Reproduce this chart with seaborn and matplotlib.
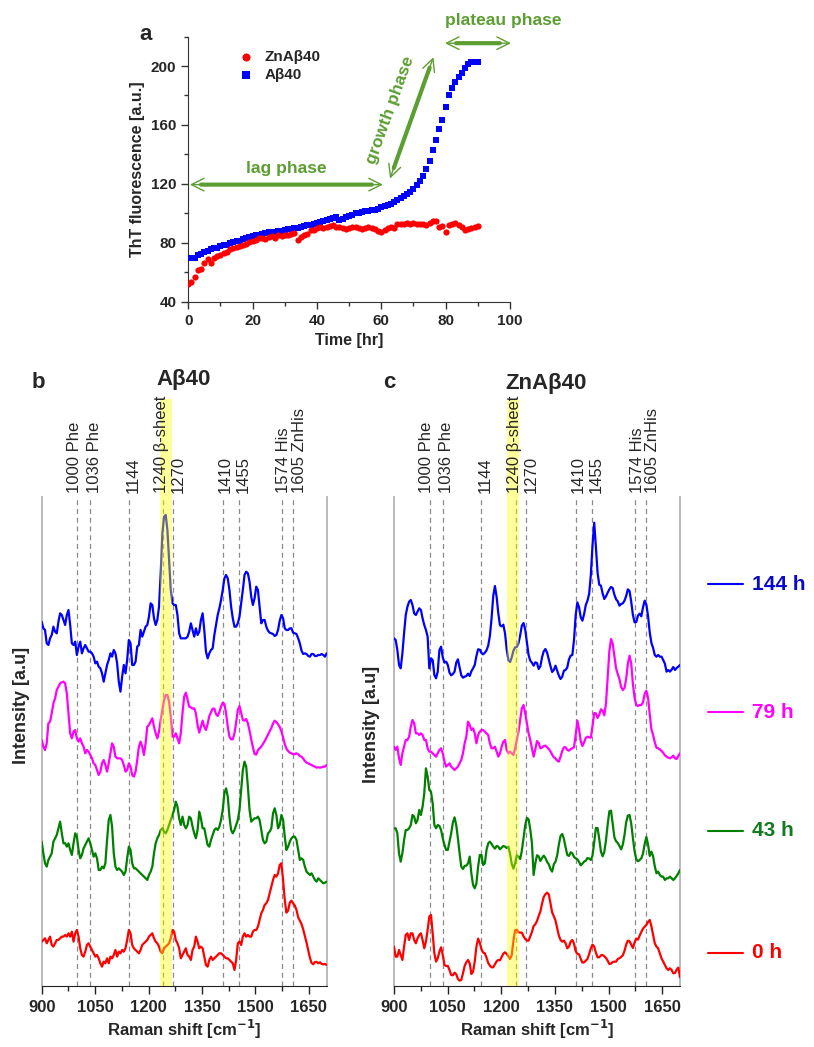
import numpy as np
import pandas as pd
import matplotlib
matplotlib.use('Agg')
import matplotlib.pyplot as plt
import matplotlib.transforms as mtransforms
from matplotlib.lines import Line2D
from matplotlib.ticker import MultipleLocator
import seaborn as sns

sns.set_style('white')
plt.rcParams['font.family'] = ['Liberation Sans', 'DejaVu Sans']

# ---- panel a: ThT kinetics (hourly readings) ----
time_hr = np.arange(0, 91)
abeta40 = [69.4, 69.4, 69.4, 71.6, 72.5, 73.8, 74.5, 75.5, 76.3, 76.8,
           77.8, 78.5, 78.5, 79.8, 80.5, 81.0, 81.4, 82.5, 83.2, 83.8,
           84.5, 85.0, 85.5, 86.2, 86.5, 87.0, 87.2, 87.6, 88.0, 88.3,
           88.6, 89.2, 89.5, 90.0, 90.2, 90.8, 91.2, 91.8, 92.4, 93.0,
           93.6, 94.3, 95.0, 95.7, 96.4, 97.0, 97.6, 95.5, 96.5, 97.8,
           98.5, 99.2, 100.0, 100.5, 101.2, 101.6, 101.8, 102.0, 102.6, 103.2,
           104.0, 104.8, 105.5, 106.5, 107.5, 108.8, 110.3, 111.8, 113.3, 114.8,
           116.5, 119.0, 122.0, 125.5, 130.0, 135.5, 143.0, 150.0, 157.5, 163.5,
           172.0, 180.0, 185.0, 189.0, 192.5, 195.5, 198.5, 201.5, 202.8, 203.0,
           202.5]
zn_abeta40 = [52, 53.5, 57, 61.5, 62.5, 66, 69, 66.5, 70, 71,
              72, 73, 74, 76, 76.5, 77, 78, 78.5, 79.5, 80.5,
              81.5, 82, 83.5, 83, 82.5, 84, 84.5, 83.5, 85, 84.5,
              85.5, 85, 86, 86.5, 82, 84, 85.5, 86, 88.5, 89,
              90, 90.5, 90, 91, 91.5, 92, 90.5, 91, 90, 89.5,
              90, 91, 90.5, 90, 89.5, 90, 90.5, 90, 89.5, 88,
              87.5, 89, 90, 91, 90, 92.5, 93, 92.5, 93.5, 93,
              93.5, 92.5, 93, 92.5, 92, 93.5, 94.5, 95, 91, 91.5,
              87.5, 92, 93, 93.5, 92, 91, 88.5, 89.5, 90, 91,
              91.5]

# ---- panels b, c: Raman spectra (900-1700 cm-1, baseline-subtracted a.u.) ----
b_144h = [235, 215, 210, 170, 165, 185, 195, 220, 205, 200,
          235, 260, 255, 240, 225, 255, 270, 225, 170, 165,
          175, 135, 160, 175, 140, 155, 165, 155, 145, 145,
          140, 130, 110, 115, 100, 95, 80, 55, 80, 105,
          120, 140, 130, 150, 140, 110, 55, 25, 70, 105,
          80, 120, 180, 170, 105, 105, 115, 160, 165, 210,
          190, 205, 220, 225, 250, 290, 285, 245, 225, 240,
          280, 380, 500, 550, 555, 510, 420, 330, 290, 285,
          285, 255, 200,
          185, 185, 185, 185, 190, 205, 230, 210, 190, 215,
          195, 205, 240, 260, 210, 145, 125, 140, 150, 155,
          195, 225, 255, 275, 300, 330, 365, 375, 365, 330,
          280, 245, 220, 220, 230, 250, 290, 330, 375, 385,
          380, 355, 310, 285, 305, 340, 330, 280, 230, 240,
          240, 220, 208, 202, 200, 198, 192, 195, 210, 238,
          255, 245, 215, 210, 210, 215, 215, 202, 200, 198,
          185, 170, 148, 138, 140, 138, 132, 130, 138, 138,
          132, 132, 135, 135, 138, 135, 130, 140]
b_79h = [130, 110, 100, 120, 180, 185, 210, 240, 255, 280,
         290, 300, 303, 305, 300, 270, 210, 150, 135, 155,
         160, 135, 125, 135, 120, 110, 90, 100, 95, 85,
         75, 60, 55, 40, 25, 35, 60, 70, 55, 35,
         60, 90, 120, 110, 80, 75, 75, 75, 70, 55,
         35, 40, 60, 50, 25, 20, 35, 70, 110, 125,
         110, 85, 120, 170, 175, 185, 195, 170, 150, 135,
         155, 190, 220, 250, 265, 265, 245, 200, 140, 140,
         150, 135, 120,
         150, 210, 260, 272, 252, 230, 228, 224, 225, 210,
         175, 152, 170, 188, 170, 160, 178, 202, 213, 224,
         224, 208, 202, 214, 230, 242, 238, 210, 170, 140,
         132, 132, 150, 182, 220, 232, 212, 190, 188, 193,
         180, 158, 132, 108, 88, 86, 100, 105, 110, 118,
         126, 136, 146, 156, 166, 179, 188, 184, 177, 169,
         156, 138, 118, 104, 97, 92, 90, 87, 88, 90,
         87, 82, 80, 74, 67, 62, 60, 57, 55, 52,
         50, 47, 48, 47, 48, 50, 50, 55]
b_43h = [175, 140, 110, 100, 120, 130, 140, 175, 185, 195,
         215, 235, 200, 170, 170, 160, 170, 150, 135, 170,
         200, 190, 150, 125, 135, 155, 165, 175, 185, 170,
         150, 130, 140, 125, 90, 90, 100, 95, 110, 180,
         240, 255, 220, 140, 100, 90, 95, 90, 85, 75,
         85, 125, 160, 150, 110, 95, 95, 90, 85, 80,
         75, 70, 65, 60, 75, 85, 100, 140, 170, 185,
         195, 210, 215, 205, 200, 210, 225, 240, 255, 270,
         295, 280, 245,
         225, 250, 225, 215, 225, 250, 245, 220, 200, 185,
         210, 265, 245, 215, 215, 190, 165, 160, 180, 195,
         210, 215, 210, 220, 240, 270, 320, 335, 310, 250,
         210, 200, 210, 225, 240, 270, 330, 390, 415, 400,
         340, 270, 235, 240, 245, 245, 250, 240, 210, 180,
         170, 175, 200, 205, 215, 260, 275, 255, 215, 225,
         255, 240, 190, 150, 160, 175, 185, 190, 190, 180,
         150, 120, 125, 120, 100, 85, 80, 75, 80, 70,
         60, 55, 65, 60, 55, 50, 52, 55]
b_0h = [95, 100, 105, 90, 100, 110, 85, 80, 90, 100,
        100, 105, 110, 110, 115, 110, 120, 110, 125, 95,
        120, 130, 110, 75, 55, 50, 65, 85, 90, 80,
        70, 60, 50, 55, 45, 30, 20, 35, 30, 45,
        30, 50, 45, 55, 70, 50, 65, 60, 70, 65,
        75, 100, 130, 120, 85, 75, 70, 65, 60, 70,
        85, 90, 95, 100, 110, 115, 120, 105, 95, 90,
        80, 65, 60, 75, 80, 85, 90, 105, 130, 125,
        100, 90, 75,
        45, 55, 65, 75, 55, 50, 40, 70, 80, 110,
        95, 75, 80, 75, 50, 25, 20, 40, 50, 40,
        45, 50, 55, 60, 60, 55, 50, 45, 45, 40,
        35, 30, 10, 40, 90, 95, 85, 110, 120, 110,
        115, 110, 110, 125, 130, 130, 140, 160, 180, 190,
        205, 210, 220, 240, 260, 280, 295, 290, 300, 325,
        330, 280, 220, 182, 188, 212, 218, 210, 203, 190,
        168, 158, 148, 132, 112, 92, 70, 47, 31, 27,
        34, 34, 30, 33, 28, 27, 28, 25]

c_144h = [185, 180, 150, 105, 95, 140, 200, 255, 280, 295,
          300, 285, 260, 255, 265, 275, 270, 245, 225, 210,
          190, 95, 125, 120, 75, 65, 85, 150, 160, 128,
          112, 115, 105, 82, 74, 78, 85, 112, 122, 98,
          74, 67, 70, 72, 79, 72, 86, 95, 105, 132,
          152, 151, 141, 137, 142, 149, 163, 192, 245, 312,
          342, 310, 260, 224, 221, 226, 200, 152, 119, 114,
          128, 148, 158, 159, 170, 194, 223, 231, 211, 172,
          135, 118, 112,
          103, 113, 111, 93, 101, 128, 146, 153, 142, 122,
          102, 84, 90, 103, 88, 73, 63, 70, 88, 90,
          98, 122, 133, 135, 180, 255, 293, 278, 248, 238,
          258, 285, 298, 319, 375, 465, 532, 460, 382, 346,
          343, 320, 303, 311, 322, 332, 339, 336, 316, 302,
          296, 283, 288, 290, 298, 312, 332, 327, 295, 255,
          233, 234, 253, 259, 251, 278, 298, 286, 252, 203,
          171, 156, 135, 130, 135, 130, 130, 120, 109, 85,
          90, 85, 91, 99, 90, 96, 100, 105]
c_79h = [110, 100, 110, 75, 55, 90, 110, 130, 130, 140,
         170, 190, 180, 150, 150, 145, 150, 145, 130, 130,
         105, 95, 95, 90, 85, 80, 90, 100, 105, 90,
         65, 50, 55, 60, 50, 45, 40, 45, 50, 60,
         70, 90, 120, 140, 185, 175, 160, 165, 150, 120,
         145, 155, 160, 160, 155, 150, 145, 120, 105, 105,
         110, 95, 80, 90, 110, 125, 130, 100, 90, 95,
         90, 85, 105, 130, 155, 190, 225, 235, 210, 180,
         150, 130, 105,
         80, 102, 127, 121, 105, 107, 112, 113, 108, 103,
         96, 86, 78, 75, 68, 65, 80, 97, 108, 108,
         100, 98, 103, 105, 108, 145, 188, 162, 126, 112,
         123, 136, 140, 138, 137, 172, 211, 210, 196, 206,
         222, 218, 204, 239, 319, 396, 433, 419, 382, 345,
         328, 313, 289, 280, 286, 313, 359, 383, 360, 298,
         257, 235, 232, 235, 235, 243, 268, 278, 257, 207,
         162, 145, 123, 107, 105, 102, 97, 92, 84, 80,
         77, 75, 78, 83, 75, 73, 82, 90]
c_43h = [215, 215, 200, 140, 115, 140, 180, 210, 210, 215,
         225, 255, 250, 230, 240, 270, 255, 280, 320, 395,
         370, 330, 325, 290, 225, 215, 225, 222, 210, 185,
         165, 150, 150, 175, 200, 232, 248, 225, 185, 140,
         100, 93, 102, 103, 110, 130, 80, 45, 35, 50,
         100, 135, 135, 105, 110, 150, 170, 175, 168, 160,
         154, 162, 160, 152, 157, 162, 160, 156, 160, 138,
         108, 94, 110, 134, 130, 123, 148, 185, 224, 246,
         242, 212, 170,
         75, 110, 134, 131, 117, 126, 133, 126, 114, 107,
         93, 85, 107, 115, 134, 167, 192, 198, 183, 158,
         135, 132, 143, 140, 129, 125, 122, 114, 104, 109,
         115, 118, 126, 124, 120, 133, 173, 216, 216, 183,
         145, 131, 144, 179, 226, 266, 268, 227, 188, 176,
         171, 162, 152, 166, 195, 233, 253, 255, 229, 186,
         146, 122, 116, 120, 125, 139, 168, 189, 166, 132,
         145, 131, 101, 80, 85, 75, 70, 70, 60, 65,
         65, 70, 65, 60, 65, 72, 80, 90]
c_0h = [110, 80, 80, 100, 85, 70, 110, 145, 150, 130,
        150, 150, 130, 120, 135, 145, 150, 130, 105, 125,
        160, 200, 205, 150, 90, 65, 75, 95, 108, 85,
        55, 52, 52, 40, 25, 24, 32, 27, 13, 8,
        10, 30, 52, 63, 70, 60, 28, 35, 65, 110,
        134, 122, 102, 92, 90, 77, 61, 53, 48, 48,
        57, 66, 70, 69, 79, 89, 93, 88, 81, 73,
        85, 128, 159, 161, 153, 152, 152, 141, 133, 128,
        128, 141, 154,
        172, 177, 187, 202, 215, 239, 259, 267, 272, 267,
        240, 213, 201, 188, 166, 143, 130, 125, 128, 120,
        105, 110, 125, 130, 119, 96, 88, 87, 73, 62,
        63, 68, 73, 88, 105, 116, 110, 92, 78, 78,
        84, 85, 81, 76, 68, 58, 59, 64, 65, 65,
        73, 75, 79, 84, 97, 116, 128, 126, 116, 106,
        122, 134, 131, 143, 154, 164, 170, 175, 184, 190,
        171, 146, 120, 110, 105, 90, 75, 65, 55, 45,
        40, 45, 40, 30, 31, 41, 47, 18]

time_labels = ['144 h', '79 h', '43 h', '0 h']
peak_pos = [1000, 1036, 1144, 1240, 1270, 1410, 1455, 1574, 1605]
peak_names = ['1000 Phe', '1036 Phe', '1144', '1240 \u03b2-sheet', '1270',
              '1410', '1455', '1574 His', '1605 ZnHis']

line_colors = {'144 h': '#0000ff', '79 h': '#ff00ff', '43 h': '#008000', '0 h': '#ff0000'}
text_colors = {'144 h': '#0a0ac8', '79 h': '#ff00ff', '43 h': '#137a1f', '0 h': '#ff0000'}
green = '#5c9e31'

fig = plt.figure(figsize=(8.14, 10.47), dpi=100)

# ---------------- panel a ----------------
ax = fig.add_axes([0.2313, 0.7118, 0.3952, 0.2533])
sns.scatterplot(x=time_hr, y=abeta40, ax=ax, color='#0000ff', marker='s', s=18,
                linewidth=0, label='A\u03b240', zorder=3)
sns.scatterplot(x=time_hr, y=zn_abeta40, ax=ax, color='#ff0000', marker='o', s=20,
                linewidth=0, label='ZnA\u03b240', zorder=3)
ax.set_xlim(0, 100)
ax.set_ylim(40, 220)
ax.xaxis.set_major_locator(MultipleLocator(20))
ax.xaxis.set_minor_locator(MultipleLocator(10))
ax.yaxis.set_major_locator(MultipleLocator(40))
ax.yaxis.set_minor_locator(MultipleLocator(20))
ax.tick_params(which='both', direction='out', bottom=True, left=True, width=1, color='#333333')
ax.tick_params(which='major', length=5, labelsize=11)
ax.tick_params(which='minor', length=3)
for lab in ax.get_xticklabels() + ax.get_yticklabels():
    lab.set_fontweight('bold')
sns.despine(ax=ax)
for sp in ['left', 'bottom']:
    ax.spines[sp].set_color('#333333')
ax.set_xlabel('Time [hr]', fontsize=11.5, fontweight='bold', labelpad=4)
ax.set_ylabel('ThT fluorescence [a.u.]', fontsize=11.5, fontweight='bold', labelpad=4)
h, l = ax.get_legend_handles_labels()
ax.legend(h[::-1], l[::-1], loc='upper left', bbox_to_anchor=(0.09, 1.0), frameon=False,
          handletextpad=0.2, labelspacing=0.25, markerscale=1.3,
          prop={'weight': 'bold', 'size': 11})


def phase_arrow(p0, p1):
    ax.annotate('', xy=p1, xytext=p0, annotation_clip=False,
                arrowprops=dict(arrowstyle='<->,head_length=0.9,head_width=0.45',
                                color=green, lw=1.0, shrinkA=0, shrinkB=0))
    ax.annotate('', xy=p1, xytext=p0, annotation_clip=False,
                arrowprops=dict(arrowstyle='-', color=green, lw=3, shrinkA=8, shrinkB=8))


phase_arrow((0.5, 119.5), (60.5, 119.5))
phase_arrow((62.7, 123.6), (76.2, 206))
phase_arrow((79.8, 215.5), (100.3, 215.5))
ax.text(30.6, 130.4, 'lag phase', color=green, fontsize=12.5, fontweight='bold',
        ha='center', va='center')
ax.text(62.7, 170, 'growth phase', color=green, fontsize=12.5, fontweight='bold',
        ha='center', va='center', rotation=70)
ax.text(97.8, 231, 'plateau phase', color=green, fontsize=12.5, fontweight='bold',
        ha='center', va='center', clip_on=False)
fig.text(146 / 814, 1 - 35 / 1047, 'a', fontsize=16, fontweight='bold', ha='center', va='center')


# ---------------- panels b, c ----------------
def spectrum_panel(ax, spectra, offsets, band):
    frames = []
    for lab, vals, off in zip(time_labels, spectra, offsets):
        frames.append(pd.DataFrame({'shift': np.linspace(900, 1700, len(vals)),
                                    'intensity': np.asarray(vals, dtype=float) + off,
                                    'time': lab}))
    df = pd.concat(frames, ignore_index=True)
    sns.lineplot(data=df, x='shift', y='intensity', hue='time', palette=line_colors,
                 legend=False, estimator=None, sort=False, ax=ax, lw=1.6, zorder=3)
    for p in peak_pos:
        ax.axvline(p, color='#8a8a8a', lw=0.9, ls=(0, (4, 3)), zorder=1)
    span = ax.axvspan(band[0], band[1], ymin=0, ymax=1.2, color='#ffff00', alpha=0.4,
                      lw=0, zorder=5)
    span.set_clip_on(False)
    blend = mtransforms.blended_transform_factory(ax.transData, ax.transAxes)
    nudges = [-2, 3, 3, -1, 3.5, 1.5, 3, 1.5, 4.5]
    for p, name, dx in zip(peak_pos, peak_names, nudges):
        ax.annotate(name, xy=(p, 1.0), xycoords=blend, xytext=(dx, 3),
                    textcoords='offset points', rotation=90, ha='center', va='bottom',
                    fontsize=12, zorder=6, annotation_clip=False)
    ax.set_xlim(900, 1700)
    ax.set_ylim(12, 1479)
    ax.set_yticks([])
    ax.xaxis.set_major_locator(MultipleLocator(150))
    ax.xaxis.set_minor_locator(MultipleLocator(75))
    ax.tick_params(axis='x', which='both', direction='out', bottom=True, width=1, color='#222222')
    ax.tick_params(axis='x', which='major', length=6, labelsize=12, pad=4)
    ax.tick_params(axis='x', which='minor', length=3.5)
    for lab in ax.get_xticklabels():
        lab.set_fontweight('bold')
    ax.spines['top'].set_visible(False)
    for sp in ['left', 'right']:
        ax.spines[sp].set_color('#b4b4b4')
        ax.spines[sp].set_linewidth(1.3)
    ax.spines['bottom'].set_color('#222222')
    ax.set_xlabel('Raman shift [cm$^{\\mathbf{-1}}$]', fontsize=12, fontweight='bold', labelpad=2)
    ax.set_ylabel('')


ax_b = fig.add_axes([0.0512, 0.0583, 0.3501, 0.4670])
spectrum_panel(ax_b, [b_144h, b_79h, b_43h, b_0h], [870, 620, 270, 50], (1231, 1265))
ax_c = fig.add_axes([0.4840, 0.0583, 0.3514, 0.4670])
spectrum_panel(ax_c, [c_144h, c_79h, c_43h, c_0h], [870, 620, 270, 20], (1216, 1249))

fig.text(38 / 814, 1 - 382 / 1047, 'b', fontsize=16, fontweight='bold', ha='center', va='center')
fig.text(389 / 814, 1 - 383 / 1047, 'c', fontsize=16, fontweight='bold', ha='center', va='center')
fig.text(184 / 814, 1 - 380 / 1047, 'A\u03b240', fontsize=16, fontweight='bold', ha='center', va='center')
fig.text(546 / 814, 1 - 383 / 1047, 'ZnA\u03b240', fontsize=16, fontweight='bold', ha='center', va='center')
fig.text(22 / 814, 1 - 705 / 1047, 'Intensity [a.u]', fontsize=13, fontweight='bold',
         rotation=90, ha='center', va='center')
fig.text(372 / 814, 1 - 724 / 1047, 'Intensity [a.u]', fontsize=13, fontweight='bold',
         rotation=90, ha='center', va='center')

# time legend on the right
for lab, ypx in zip(time_labels, [584, 712, 831, 953]):
    yf = 1 - ypx / 1047
    fig.add_artist(Line2D([708 / 814, 743 / 814], [yf, yf], transform=fig.transFigure,
                          color=line_colors[lab], lw=1.5))
    fig.text(752 / 814, yf, lab, color=text_colors[lab], fontsize=15, fontweight='bold',
             ha='left', va='center')

fig.savefig('out.png', dpi=100)
